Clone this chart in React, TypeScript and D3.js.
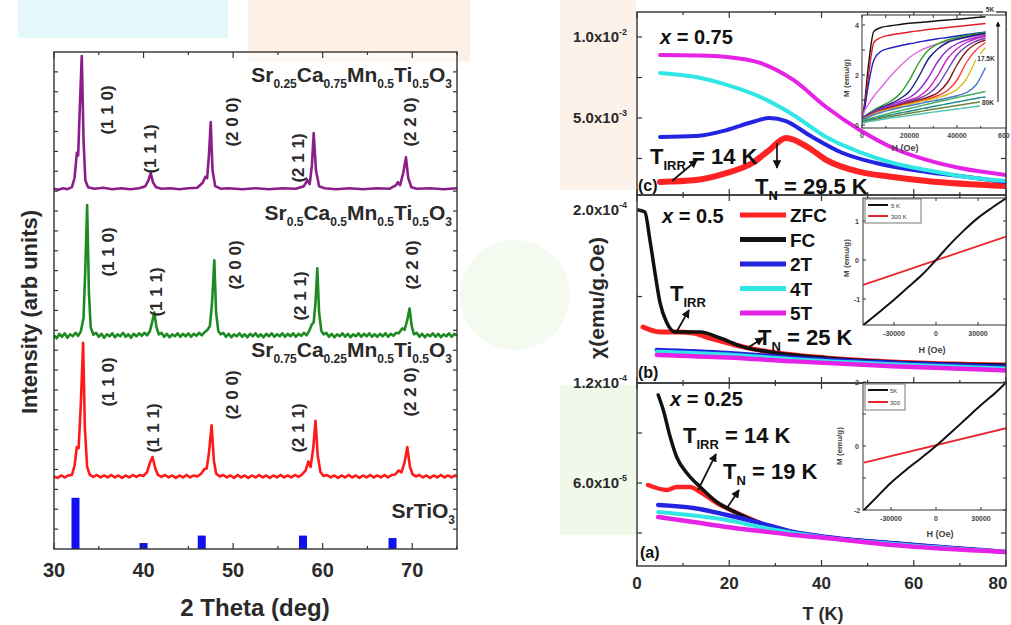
import React from 'react';
import * as d3 from 'd3';

const FONT = "'Liberation Sans', Arial, Helvetica, sans-serif";
const INK = '#2a2a2a';

// ---------- left panel : XRD patterns, [2theta, intensity] ----------
const xrdPurple: [number, number][] = [
  [30, 0.3], [30.5, 0.1], [31, 0.4], [31.5, 0.2], [32, 0.6], [32.3, 2.5], [32.55, 7.5], [32.7, 7.0], [32.85, 15], [33.1, 27.0],
  [33.3, 10], [33.5, 2], [33.8, 0.6], [34.5, 0.3], [35.5, 0.5], [36.5, 0.2], [37.5, 0.4], [38.5, 0.2], [39.5, 0.4], [40.2, 0.8],
  [40.5, 1.8], [40.8, 3.4], [41.05, 1.6], [41.4, 0.6], [42, 0.3], [43, 0.4], [44, 0.2], [45, 0.4], [46, 0.5], [46.6, 1.5],
  [46.9, 2.7], [47.1, 2.4], [47.3, 7], [47.5, 13.7], [47.7, 4], [48, 0.8], [48.6, 0.3], [49.5, 0.4], [51, 0.2], [52.5, 0.4],
  [54, 0.2], [55.5, 0.4], [57, 0.3], [57.9, 0.8], [58.3, 2.0], [58.55, 1.2], [58.8, 5], [59.0, 11.5], [59.25, 4], [59.6, 0.8],
  [60.2, 0.4], [61.5, 0.2], [63, 0.4], [64.5, 0.2], [66, 0.4], [67.5, 0.3], [68.2, 1.0], [68.4, 1.6], [68.65, 1.0], [69.0, 3.5],
  [69.3, 6.6], [69.55, 2.5], [69.9, 0.6], [70.5, 0.3], [72, 0.4], [73.5, 0.2], [75, 0.4],
];
const xrdGreen: [number, number][] = [
  [30, 0.4], [30.3, -0.2], [30.6, 0.7], [30.9, 0.1], [31.2, 0.8], [31.5, -0.1], [31.8, 0.6], [32.1, 0.2], [32.4, 0.9], [32.7, 0.3],
  [33.0, 1.2], [33.3, 4], [33.5, 14], [33.7, 26.6], [33.9, 9], [34.1, 2], [34.4, 0.5], [34.7, 0.9], [35.0, 0.1], [35.3, 0.7],
  [35.6, -0.1], [35.9, 0.6], [36.2, 0.2], [36.5, 0.8], [36.8, 0], [37.1, 0.6], [37.4, 0.2], [37.7, 0.9], [38.0, 0.1], [38.3, 0.6],
  [38.6, -0.1], [38.9, 0.7], [39.2, 0.2], [39.5, 0.8], [39.8, 0.3], [40.1, 0.9], [40.4, 0.4], [40.7, 1.2], [40.95, 3], [41.2, 5.0],
  [41.45, 2], [41.7, 0.6], [42.0, 0.9], [42.3, 0.1], [42.6, 0.7], [42.9, 0], [43.2, 0.6], [43.5, 0.2], [43.8, 0.8], [44.1, 0.1],
  [44.4, 0.7], [44.7, 0.2], [45.0, 0.8], [45.3, 0.1], [45.6, 0.7], [45.9, 0.3], [46.2, 0.9], [46.5, 0.4], [46.8, 1.0], [47.1, 1.4],
  [47.4, 2.2], [47.65, 7], [47.9, 15.5], [48.1, 5], [48.35, 1.2], [48.6, 0.6], [48.9, 0.9], [49.2, 0.1], [49.5, 0.7], [49.8, 0],
  [50.1, 0.6], [50.4, 0.2], [50.7, 0.8], [51.0, 0.1], [51.3, 0.6], [51.6, 0], [51.9, 0.7], [52.2, 0.2], [52.5, 0.8], [52.8, 0.1],
  [53.1, 0.6], [53.4, 0], [53.7, 0.7], [54.0, 0.2], [54.3, 0.8], [54.6, 0.1], [54.9, 0.6], [55.2, 0.2], [55.5, 0.8], [55.8, 0.1],
  [56.1, 0.7], [56.4, 0.2], [56.7, 0.8], [57.0, 0.1], [57.3, 0.7], [57.6, 0.3], [57.9, 0.9], [58.2, 0.4], [58.5, 1.3], [58.8, 2.6],
  [59.0, 3.0], [59.2, 7], [59.4, 13.9], [59.6, 5], [59.85, 1.3], [60.1, 0.6], [60.4, 0.9], [60.7, 0.1], [61.0, 0.7], [61.3, 0],
  [61.6, 0.6], [61.9, 0.2], [62.2, 0.8], [62.5, 0.1], [62.8, 0.7], [63.1, 0], [63.4, 0.6], [63.7, 0.2], [64.0, 0.8], [64.3, 0.1],
  [64.6, 0.7], [64.9, 0.2], [65.2, 0.8], [65.5, 0.1], [65.8, 0.6], [66.1, 0.1], [66.4, 0.7], [66.7, 0.2], [67.0, 0.8], [67.3, 0.1],
  [67.6, 0.7], [67.9, 0.3], [68.2, 0.9], [68.5, 0.8], [68.9, 1.8], [69.15, 1.5], [69.45, 3.5], [69.7, 5.8], [69.95, 2.2], [70.2, 0.6],
  [70.5, 0.9], [70.8, 0.1], [71.1, 0.7], [71.4, 0], [71.7, 0.6], [72.0, 0.2], [72.3, 0.8], [72.6, 0.1], [72.9, 0.7], [73.2, 0],
  [73.5, 0.6], [73.8, 0.2], [74.1, 0.8], [74.4, 0.1], [74.7, 0.7], [75, 0.3],
];
const xrdRed: [number, number][] = [
  [30, 0.3], [30.4, 0], [30.8, 0.5], [31.2, 0.1], [31.6, 0.5], [32.0, 0.6], [32.3, 2.5], [32.55, 6.2], [32.75, 6.0], [33.0, 15],
  [33.25, 27.2], [33.45, 10], [33.7, 2.2], [34.0, 0.6], [34.4, 0.2], [34.8, 0.6], [35.2, 0.1], [35.6, 0.5], [36.0, 0.1], [36.4, 0.6],
  [36.8, 0.1], [37.2, 0.5], [37.6, 0], [38.0, 0.5], [38.4, 0.1], [38.8, 0.6], [39.2, 0.2], [39.6, 0.6], [40.0, 0.4], [40.4, 1.2],
  [40.7, 3.0], [41.0, 4.2], [41.3, 2.0], [41.6, 0.6], [42.0, 0.2], [42.4, 0.6], [42.8, 0.1], [43.2, 0.5], [43.6, 0], [44.0, 0.5],
  [44.4, 0.1], [44.8, 0.6], [45.2, 0.1], [45.6, 0.5], [46.0, 0.3], [46.4, 0.8], [46.8, 1.8], [47.05, 1.9], [47.3, 5], [47.6, 10.6],
  [47.85, 3.5], [48.1, 0.9], [48.5, 0.3], [48.9, 0.6], [49.3, 0.1], [49.7, 0.5], [50.1, 0], [50.5, 0.6], [50.9, 0.1], [51.3, 0.5],
  [51.7, 0], [52.1, 0.5], [52.5, 0.1], [52.9, 0.6], [53.3, 0.1], [53.7, 0.5], [54.1, 0], [54.5, 0.5], [54.9, 0.1], [55.3, 0.6],
  [55.7, 0.1], [56.1, 0.5], [56.5, 0.1], [56.9, 0.6], [57.3, 0.2], [57.7, 0.7], [58.1, 1.5], [58.4, 3.3], [58.65, 2.2], [58.95, 6],
  [59.2, 11.5], [59.45, 4.5], [59.75, 1.2], [60.1, 0.4], [60.5, 0.6], [60.9, 0.1], [61.3, 0.5], [61.7, 0], [62.1, 0.5], [62.5, 0.1],
  [62.9, 0.6], [63.3, 0.1], [63.7, 0.5], [64.1, 0], [64.5, 0.5], [64.9, 0.1], [65.3, 0.6], [65.7, 0.1], [66.1, 0.5], [66.5, 0.1],
  [66.9, 0.6], [67.3, 0.1], [67.7, 0.6], [68.1, 0.7], [68.5, 1.5], [68.8, 1.1], [69.15, 3.2], [69.45, 6.2], [69.75, 2.2], [70.05, 0.7],
  [70.4, 0.3], [70.8, 0.6], [71.2, 0.1], [71.6, 0.5], [72.0, 0], [72.4, 0.5], [72.8, 0.1], [73.2, 0.6], [73.6, 0.1], [74.0, 0.5],
  [74.4, 0.1], [74.8, 0.5], [75, 0.2],
];
const srTiO3Pos = [32.4, 40.0, 46.5, 57.8, 67.8];
const srTiO3Int = [10.3, 1.2, 2.7, 2.7, 2.2];
const thetaTicks = [30, 40, 50, 60, 70];
const hkl = ['(1 1 0)', '(1 1 1)', '(2 0 0)', '(2 1 1)', '(2 2 0)'];
const formulaPurple = ['Sr', '0.25', 'Ca', '0.75', 'Mn', '0.5', 'Ti', '0.5', 'O', '3'];
const formulaGreen = ['Sr', '0.5', 'Ca', '0.5', 'Mn', '0.5', 'Ti', '0.5', 'O', '3'];
const formulaRed = ['Sr', '0.75', 'Ca', '0.25', 'Mn', '0.5', 'Ti', '0.5', 'O', '3'];

// ---------- right panel (c) x = 0.75 ----------
const tC = [5, 12.8, 19.5, 26.7, 33.9, 41, 48.3, 55.5, 62.8, 70, 80];
const c5T = [0.00889, 0.00886, 0.00877, 0.0084, 0.00735, 0.00568, 0.00426, 0.00315, 0.00241, 0.00191, 0.00148];
const c4T = [0.00778, 0.00753, 0.00704, 0.0063, 0.00519, 0.00383, 0.0029, 0.00222, 0.00179, 0.00142, 0.00111];
const tC2T = [5, 12.8, 19.5, 25, 28.7, 32.3, 37.3, 44.6, 51.8, 62.8, 70, 80];
const c2T = [0.00383, 0.00389, 0.00426, 0.00475, 0.005, 0.00481, 0.00395, 0.00284, 0.00222, 0.00167, 0.00142, 0.00105];
const tCZfc = [5, 12.8, 19.5, 25, 28.7, 32.3, 37.3, 41, 48.3, 55.5, 62.8, 80];
const cZfc = [0.00105, 0.00117, 0.00161, 0.00222, 0.00302, 0.00377, 0.00315, 0.00241, 0.00167, 0.00136, 0.00111, 0.0008];

// ---------- right panel (b) x = 0.5 ----------
const tBFc = [0.3, 1.7, 2.8, 3.9, 5, 6.5, 8.2, 10.8, 13.7, 18, 23, 30.3, 41, 55.5, 80];
const bFc = [2.0e-4, 1.991e-4, 1.861e-4, 1.709e-4, 1.57e-4, 1.477e-4, 1.436e-4, 1.436e-4, 1.436e-4, 1.408e-4, 1.367e-4, 1.339e-4, 1.316e-4, 1.297e-4, 1.283e-4];
const tBZfc = [1.3, 5, 8.6, 12.2, 15.8, 18, 23, 30.3, 41, 55.5, 80];
const bZfc = [1.459e-4, 1.436e-4, 1.436e-4, 1.431e-4, 1.408e-4, 1.395e-4, 1.367e-4, 1.339e-4, 1.316e-4, 1.297e-4, 1.283e-4];
const tBField = [4.3, 19.5, 34, 55.5, 80];
const b2T = [1.353e-4, 1.339e-4, 1.316e-4, 1.293e-4, 1.274e-4];
const b4T = [1.345e-4, 1.332e-4, 1.31e-4, 1.287e-4, 1.267e-4];
const b5T = [1.33e-4, 1.318e-4, 1.3e-4, 1.278e-4, 1.258e-4];

// ---------- right panel (a) x = 0.25 ----------
const tAFc = [4.6, 5.7, 7.2, 8.6, 10.8, 13.7, 17.3, 21.7, 26.7, 33.9, 41, 55.5, 80];
const aFc = [1.128e-4, 1.038e-4, 0.876e-4, 0.756e-4, 0.66e-4, 0.576e-4, 0.486e-4, 0.42e-4, 0.36e-4, 0.306e-4, 0.276e-4, 0.24e-4, 0.186e-4];
const tAZfc = [2.4, 6.5, 8.6, 11.5, 13.7, 17.3, 21.7, 26.7];
const aZfc = [0.588e-4, 0.558e-4, 0.576e-4, 0.576e-4, 0.546e-4, 0.48e-4, 0.42e-4, 0.36e-4];
const tAField = [4.6, 12.2, 19.5, 26.7, 33.9, 41, 55.5, 80];
const a2T = [0.468e-4, 0.45e-4, 0.408e-4, 0.36e-4, 0.306e-4, 0.276e-4, 0.238e-4, 0.186e-4];
const a4T = [0.426e-4, 0.405e-4, 0.378e-4, 0.336e-4, 0.3e-4, 0.272e-4, 0.234e-4, 0.186e-4];
const a5T = [0.396e-4, 0.366e-4, 0.336e-4, 0.312e-4, 0.288e-4, 0.27e-4, 0.228e-4, 0.186e-4];

const tTicks = [0, 20, 40, 60, 80];

// ---------- insets: M(H) ----------
const mhH = [0, 1000, 2500, 5000, 8000, 12000, 16000, 20000, 24000, 28000, 32000, 36000, 40000, 44000, 48000, 52000];
const mhCurvesC = [
  [0.3, 0.8, 2.2, 3.75, 3.9, 3.97, 4.02, 4.07, 4.1, 4.13, 4.17, 4.2, 4.23, 4.26, 4.3, 4.33],
  [0.3, 0.7, 1.8, 3.3, 3.5, 3.6, 3.66, 3.72, 3.77, 3.82, 3.86, 3.9, 3.94, 3.98, 4.02, 4.06],
  [0.3, 0.6, 1.5, 2.6, 2.95, 3.08, 3.17, 3.25, 3.32, 3.39, 3.45, 3.5, 3.56, 3.62, 3.67, 3.72],
  [0.3, 0.55, 0.8, 1.15, 1.5, 1.95, 2.35, 2.7, 2.95, 3.12, 3.25, 3.35, 3.43, 3.5, 3.56, 3.62],
  [0.3, 0.35, 0.45, 0.6, 0.75, 0.95, 1.25, 1.8, 2.5, 3.0, 3.25, 3.4, 3.5, 3.58, 3.64, 3.7],
  [0.28, 0.33, 0.42, 0.55, 0.7, 0.85, 1.05, 1.35, 1.95, 2.65, 3.05, 3.3, 3.43, 3.52, 3.6, 3.66],
  [0.26, 0.31, 0.4, 0.52, 0.65, 0.8, 0.95, 1.1, 1.4, 1.9, 2.55, 3.0, 3.25, 3.4, 3.5, 3.58],
  [0.25, 0.3, 0.38, 0.5, 0.62, 0.75, 0.88, 1.0, 1.15, 1.45, 2.0, 2.65, 3.05, 3.3, 3.45, 3.55],
  [0.24, 0.29, 0.36, 0.48, 0.6, 0.72, 0.84, 0.95, 1.07, 1.25, 1.6, 2.2, 2.8, 3.15, 3.35, 3.48],
  [0.23, 0.28, 0.35, 0.46, 0.58, 0.7, 0.8, 0.9, 1.0, 1.12, 1.3, 1.7, 2.4, 2.95, 3.25, 3.4],
  [0.22, 0.27, 0.34, 0.45, 0.56, 0.67, 0.77, 0.86, 0.95, 1.05, 1.18, 1.38, 1.8, 2.5, 3.0, 3.3],
  [0.21, 0.26, 0.33, 0.44, 0.54, 0.64, 0.74, 0.83, 0.92, 1.0, 1.1, 1.22, 1.42, 1.85, 2.6, 3.1],
  [0.2, 0.25, 0.31, 0.41, 0.5, 0.6, 0.69, 0.77, 0.85, 0.93, 1.0, 1.08, 1.17, 1.3, 1.6, 2.3],
  [0.15, 0.2, 0.24, 0.3, 0.38, 0.48, 0.57, 0.66, 0.75, 0.84, 0.93, 1.01, 1.1, 1.18, 1.26, 1.34],
  [0.12, 0.16, 0.2, 0.25, 0.32, 0.4, 0.48, 0.55, 0.63, 0.7, 0.78, 0.85, 0.92, 0.99, 1.06, 1.12],
  [0.1, 0.13, 0.16, 0.21, 0.27, 0.34, 0.4, 0.47, 0.53, 0.6, 0.66, 0.72, 0.78, 0.84, 0.9, 0.96],
  [0.08, 0.1, 0.13, 0.17, 0.22, 0.28, 0.33, 0.38, 0.43, 0.49, 0.54, 0.59, 0.64, 0.69, 0.74, 0.78],
];
const mhColorsC = ['#111', '#e02020', '#2222c0', '#e066e0', '#22a022', '#1c1c80', '#9030d0', '#d020c0',
  '#6a3cb0', '#801818', '#ff3a3a', '#d4c020', '#4a78c4', '#40b060', '#208a8a', '#70853a', '#50c0b0'];

const mhBH = [-52000, -40000, -30000, -20000, -10000, 0, 10000, 20000, 30000, 40000, 50000];
const mhB5K = [-1.67, -1.32, -1.02, -0.7, -0.38, 0, 0.4, 0.76, 1.08, 1.34, 1.58];
const mhB300H = [-52000, 50000];
const mhB300 = [-0.64, 0.6];

const mhAH = [-48000, -40000, -30000, -20000, -10000, 0, 10000, 20000, 30000, 40000, 47000];
const mhA5K = [-2.0, -1.62, -1.15, -0.75, -0.38, 0, 0.42, 0.85, 1.28, 1.68, 2.0];
const mhA300H = [-48000, 47000];
const mhA300 = [-0.52, 0.56];

type P = [number, number];
const zip = (a: number[], b: number[]): P[] => a.map((v, i) => [v, b[i]] as P);

function Chem({ x, y, parts, size = 21, sub = 12 }: { x: number; y: number; parts: string[]; size?: number; sub?: number }) {
  return (
    <text x={x} y={y} textAnchor="end" fontSize={size} fontWeight="bold" fill={INK}>
      {parts.map((p, i) => (
        <tspan key={i} dy={i === 0 ? 0 : i % 2 === 1 ? 6 : -6} fontSize={i % 2 === 1 ? sub : size}>{p}</tspan>
      ))}
    </text>
  );
}

function Sci({ x, y, m, e }: { x: number; y: number; m: string; e: string }) {
  return (
    <text x={x} y={y + 5} textAnchor="end" fontSize={15} fontWeight="bold" fill={INK}>
      {m}x10<tspan dy={-7} fontSize={9}>{e}</tspan>
    </text>
  );
}

function TSub({ x, y, sub, rest, size = 22 }: { x: number; y: number; sub: string; rest: string; size?: number }) {
  return (
    <text x={x} y={y} fontSize={size} fontWeight="bold" fill="#111">
      T<tspan dy={6} fontSize={13}>{sub}</tspan><tspan dy={-6}>{rest}</tspan>
    </text>
  );
}

function Arrow({ x1, y1, x2, y2 }: { x1: number; y1: number; x2: number; y2: number }) {
  return <line x1={x1} y1={y1} x2={x2} y2={y2} stroke="#111" strokeWidth={1.7} markerEnd="url(#ah)" />;
}

export default function App() {
  // left panel scales
  const xL = d3.scaleLinear().domain([30, 75]).range([54, 457]);
  const yL = d3.scaleLinear().domain([0, 100]).range([549, 52]);
  const traces = [
    { data: xrdPurple, off: 72.2, color: '#8a1f8a' },
    { data: xrdGreen, off: 42.6, color: '#1f8a1f' },
    { data: xrdRed, off: 14.3, color: '#ff1a1a' },
  ];

  // right panel scales
  const xR = d3.scaleLinear().domain([0, 80]).range([637, 1006]);
  const yC = d3.scaleLinear().domain([0.005, 0.01]).range([118, 37]);
  const yB = d3.scaleLinear().domain([1.2e-4, 2.0e-4]).range([383, 210]);
  const yA = d3.scaleLinear().domain([6e-5, 1.2e-4]).range([483, 383]);
  const panels = [
    { top: 12, bottom: 195, y: yC, ticks: [0.0025, 0.005, 0.0075, 0.01] },
    { top: 195, bottom: 383, y: yB, ticks: [1.6e-4, 2.0e-4] },
    { top: 383, bottom: 566, y: yA, ticks: [3e-5, 6e-5, 9e-5, 1.2e-4] },
  ];
  const cLine = (y: d3.ScaleLinear<number, number>) =>
    d3.line<P>().x(d => xR(d[0])).y(d => y(d[1])).curve(d3.curveMonotoneX);

  const RED = '#ff2222', BLK = '#111', BLU = '#2323e0', CYA = '#33e6e6', MAG = '#e522e5';
  const curvesC = [
    { d: zip(tCZfc, cZfc), c: RED, w: 6 },
    { d: zip(tC2T, c2T), c: BLU, w: 4 },
    { d: zip(tC, c4T), c: CYA, w: 4 },
    { d: zip(tC, c5T), c: MAG, w: 4 },
  ];
  const curvesB = [
    { d: zip(tBZfc, bZfc), c: RED, w: 5 },
    { d: zip(tBFc, bFc), c: BLK, w: 3.5 },
    { d: zip(tBField, b2T), c: BLU, w: 4.5 },
    { d: zip(tBField, b4T), c: CYA, w: 4 },
    { d: zip(tBField, b5T), c: MAG, w: 4.5 },
  ];
  const curvesA = [
    { d: zip(tAZfc, aZfc), c: RED, w: 4.5 },
    { d: zip(tAFc, aFc), c: BLK, w: 3.5 },
    { d: zip(tAField, a2T), c: BLU, w: 4.5 },
    { d: zip(tAField, a4T), c: CYA, w: 4 },
    { d: zip(tAField, a5T), c: MAG, w: 4.5 },
  ];
  const allCurves = [curvesC, curvesB, curvesA];

  // insets
  const xIC = d3.scaleLinear().domain([0, 40000]).range([862, 957]);
  const yIC = d3.scaleLinear().domain([0, 4]).range([125, 25]);
  const xIB = d3.scaleLinear().domain([0, 30000]).range([936, 978]);
  const yIB = d3.scaleLinear().domain([0, 1]).range([260, 221]);
  const xIA = d3.scaleLinear().domain([0, 30000]).range([936, 981]);
  const yIA = d3.scaleLinear().domain([-2, 2]).range([510, 382]);
  const insetLine = (x: d3.ScaleLinear<number, number>, y: d3.ScaleLinear<number, number>) =>
    d3.line<P>().x(d => x(d[0])).y(d => y(d[1])).curve(d3.curveMonotoneX);

  const hklPos = [
    [[107, 110], [150, 149], [232, 122], [298, 158], [410, 122]],
    [[108, 252], [156, 292], [235, 265], [300, 296], [412, 265]],
    [[108, 382], [153, 428], [232, 395], [298, 428], [410, 392]],
  ];

  const frame = { stroke: '#333', strokeWidth: 1.4, fill: 'none' };
  const tickStroke = { stroke: '#333', strokeWidth: 1.2 };

  return (
    <svg width={1011} height={625} style={{ position: 'absolute', left: 0, top: 0, background: '#fff' }} fontFamily={FONT}>
      <defs>
        <marker id="ah" viewBox="0 0 10 10" refX={9} refY={5} markerWidth={5} markerHeight={5} orient="auto">
          <path d="M0,0L10,5L0,10z" fill="#111" />
        </marker>
        {panels.map((p, i) => (
          <clipPath id={`cp${i}`} key={i}><rect x={637} y={p.top} width={369} height={p.bottom - p.top} /></clipPath>
        ))}
        <clipPath id="ic0"><rect x={862} y={15} width={144} height={113} /></clipPath>
        <clipPath id="ic1"><rect x={863} y={198} width={143} height={127} /></clipPath>
        <clipPath id="ic2"><rect x={863} y={383} width={143} height={127} /></clipPath>
      </defs>

      {/* faint watermark patches */}
      <rect x={18} y={0} width={210} height={38} fill="#e4f8fb" />
      <rect x={248} y={0} width={222} height={62} fill="#fdf0e6" />
      <rect x={560} y={0} width={76} height={190} fill="#fdf2ea" />
      <rect x={560} y={385} width={76} height={150} fill="#f0f8ea" />
      <ellipse cx={515} cy={295} rx={55} ry={55} fill="#f4faf0" />

      {/* ================= left panel ================= */}
      <rect x={54} y={52} width={403} height={497} fill="#fff" fillOpacity={0.6} />
      {traces.map((t, i) => (
        <path key={i} d={d3.line<P>().x(d => xL(d[0])).y(d => yL(t.off + d[1]))(t.data) || ''}
          fill="none" stroke={t.color} strokeWidth={2.6} strokeLinejoin="round" />
      ))}
      {srTiO3Pos.map((p, i) => (
        <rect key={i} x={xL(p) - 4} y={yL(srTiO3Int[i])} width={8} height={yL(0) - yL(srTiO3Int[i])} fill="#1010f0" />
      ))}
      <rect x={54} y={52} width={403} height={497} {...frame} />
      {d3.range(30, 76, 5).map(v => (
        <g key={v}>
          <line x1={xL(v)} x2={xL(v)} y1={549} y2={549 - (v % 10 === 0 ? 6 : 3)} {...tickStroke} />
          <line x1={xL(v)} x2={xL(v)} y1={52} y2={52 + (v % 10 === 0 ? 6 : 3)} {...tickStroke} />
        </g>
      ))}
      {d3.range(4, 100, 4).map(v => (
        <g key={v}>
          <line x1={54} x2={58} y1={yL(v)} y2={yL(v)} {...tickStroke} />
          <line x1={457} x2={453} y1={yL(v)} y2={yL(v)} {...tickStroke} />
        </g>
      ))}
      {thetaTicks.map(v => (
        <text key={v} x={xL(v)} y={577} textAnchor="middle" fontSize={20} fontWeight="bold" fill={INK}>{v}</text>
      ))}
      <text x={255} y={616} textAnchor="middle" fontSize={24} fontWeight="bold" fill={INK}>2 Theta (deg)</text>
      <text transform="translate(37,312) rotate(-90)" textAnchor="middle" fontSize={22} fontWeight="bold" fill={INK}>Intensity (arb units)</text>
      {hklPos.map((row, r) => row.map(([x, y], i) => (
        <text key={`${r}-${i}`} transform={`translate(${x},${y}) rotate(-90)`} textAnchor="middle" dy={6}
          fontSize={17} fontWeight="bold" fill={INK}>{hkl[i]}</text>
      )))}
      <Chem x={452} y={82} parts={formulaPurple} />
      <Chem x={452} y={220} parts={formulaGreen} />
      <Chem x={452} y={357} parts={formulaRed} />
      <Chem x={455} y={518} parts={['SrTiO', '3']} />

      {/* ================= right panel ================= */}
      {panels.map((p, i) => (
        <g key={i}>
          <g clipPath={`url(#cp${i})`}>
            {allCurves[i].map((c, j) => (
              <path key={j} d={cLine(p.y)(c.d) || ''} fill="none" stroke={c.c} strokeWidth={c.w} strokeLinecap="round" />
            ))}
          </g>
          <rect x={637} y={p.top} width={369} height={p.bottom - p.top} {...frame} />
          {d3.range(0, 81, 10).map(v => (
            <g key={v}>
              <line x1={xR(v)} x2={xR(v)} y1={p.bottom} y2={p.bottom - (v % 20 === 0 ? 6 : 3)} {...tickStroke} />
              <line x1={xR(v)} x2={xR(v)} y1={p.top} y2={p.top + (v % 20 === 0 ? 6 : 3)} {...tickStroke} />
            </g>
          ))}
          {p.ticks.map(v => (
            <g key={v}>
              <line x1={637} x2={642} y1={p.y(v)} y2={p.y(v)} {...tickStroke} />
              <line x1={1006} x2={1001} y1={p.y(v)} y2={p.y(v)} {...tickStroke} />
            </g>
          ))}
        </g>
      ))}
      <Sci x={627} y={yC(0.01)} m="1.0" e="-2" />
      <Sci x={627} y={yC(0.005)} m="5.0" e="-3" />
      <Sci x={627} y={yB(2.0e-4)} m="2.0" e="-4" />
      <Sci x={627} y={yA(1.2e-4)} m="1.2" e="-4" />
      <Sci x={627} y={yA(6e-5)} m="6.0" e="-5" />
      {tTicks.map(v => (
        <text key={v} x={Math.min(xR(v), 998)} y={589} textAnchor="middle" fontSize={17} fontWeight="bold" fill={INK}>{v}</text>
      ))}
      <text x={823} y={620} textAnchor="middle" fontSize={18} fontWeight="bold" fill={INK}>T (K)</text>
      <text transform="translate(604,298) rotate(-90)" textAnchor="middle" fontSize={21} fontWeight="bold" fill={INK}>χ(emu/g.Oe)</text>

      {/* panel (c) annotations */}
      <text x={660} y={44} fontSize={20} fontWeight="bold" fill="#111"><tspan fontStyle="italic">x</tspan> = 0.75</text>
      <TSub x={650} y={164} sub="IRR" rest=" = 14 K" />
      <TSub x={755} y={194} sub="N" rest=" = 29.5 K" />
      <text x={638} y={191} fontSize={16} fontWeight="bold" fill="#111">(c)</text>
      <Arrow x1={672} y1={181} x2={697} y2={160} />
      <Arrow x1={777} y1={143} x2={777} y2={168} />

      {/* panel (b) annotations */}
      <text x={662} y={223} fontSize={20} fontWeight="bold" fill="#111"><tspan fontStyle="italic">x</tspan> = 0.5</text>
      {[['ZFC', RED], ['FC', BLK], ['2T', BLU], ['4T', CYA], ['5T', MAG]].map(([lab, col], i) => {
        const ly = 215 + i * 24.5;
        return (
          <g key={lab}>
            <line x1={740} x2={786} y1={ly} y2={ly} stroke={col} strokeWidth={5} />
            <text x={790} y={ly + 7} fontSize={19} fontWeight="bold" fill="#111">{lab}</text>
          </g>
        );
      })}
      <TSub x={670} y={301} sub="IRR" rest="" />
      <TSub x={758} y={345} sub="N" rest=" = 25 K" />
      <text x={638} y={378} fontSize={16} fontWeight="bold" fill="#111">(b)</text>
      <Arrow x1={677} y1={331} x2={689} y2={310} />
      <Arrow x1={749} y1={347} x2={763} y2={338} />

      {/* panel (a) annotations */}
      <text x={670} y={406} fontSize={20} fontWeight="bold" fill="#111"><tspan fontStyle="italic">x</tspan> = 0.25</text>
      <TSub x={683} y={443} sub="IRR" rest=" = 14 K" />
      <TSub x={723} y={479} sub="N" rest=" = 19 K" />
      <text x={640} y={558} fontSize={16} fontWeight="bold" fill="#111">(a)</text>
      <Arrow x1={698} y1={490} x2={716} y2={454} />
      <Arrow x1={727} y1={508} x2={739} y2={490} />

      {/* ---------- inset (c) ---------- */}
      <rect x={862} y={15} width={144} height={113} fill="#fff" />
      <g clipPath="url(#ic0)">
        {mhCurvesC.map((m, i) => (
          <path key={i} d={insetLine(xIC, yIC)(zip(mhH, m)) || ''} fill="none" stroke={mhColorsC[i]} strokeWidth={1.4} />
        ))}
      </g>
      <rect x={862} y={15} width={144} height={113} {...frame} strokeWidth={1} />
      {[0, 10000, 20000, 30000, 40000, 50000].map(v => (
        <g key={v}>
          <line x1={xIC(v)} x2={xIC(v)} y1={128} y2={128 - (v % 20000 === 0 ? 3 : 2)} stroke="#333" />
          <line x1={xIC(v)} x2={xIC(v)} y1={15} y2={18} stroke="#333" />
        </g>
      ))}
      {[0, 1, 2, 3, 4].map(v => (
        <line key={v} x1={862} x2={865} y1={yIC(v)} y2={yIC(v)} stroke="#333" />
      ))}
      {[0, 2, 4].map(v => (
        <text key={v} x={857} y={yIC(v) + 3} textAnchor="middle" fontSize={7} fontWeight="bold" fill="#444">{v}</text>
      ))}
      {[0, 20000, 40000].map(v => (
        <text key={v} x={xIC(v)} y={138} textAnchor="middle" fontSize={7} fontWeight="bold" fill="#444">{v}</text>
      ))}
      <text x={998} y={138} fontSize={7} fontWeight="bold" fill="#444">600</text>
      <text x={905} y={151} textAnchor="middle" fontSize={9} fontWeight="bold" fill="#444">H (Oe)</text>
      <text transform="translate(849,78) rotate(-90)" textAnchor="middle" fontSize={8} fontWeight="bold" fill="#444">M (emu/g)</text>
      <line x1={998} y1={102} x2={998} y2={22} stroke="#111" strokeWidth={1} markerEnd="url(#ah)" />
      <rect x={983} y={5} width={13} height={9} fill="#fff" />
      <text x={990} y={12} textAnchor="middle" fontSize={6.5} fontWeight="bold" fill="#333">5K</text>
      <rect x={976} y={54} width={21} height={9} fill="#fff" />
      <text x={986} y={61} textAnchor="middle" fontSize={6.5} fontWeight="bold" fill="#333">17.5K</text>
      <rect x={980} y={98} width={16} height={9} fill="#fff" />
      <text x={988} y={105} textAnchor="middle" fontSize={6.5} fontWeight="bold" fill="#333">80K</text>

      {/* ---------- inset (b) ---------- */}
      <rect x={863} y={198} width={143} height={127} fill="#fff" />
      <g clipPath="url(#ic1)">
        <path d={insetLine(xIB, yIB)(zip(mhB300H, mhB300)) || ''} fill="none" stroke="#e8242c" strokeWidth={1.8} />
        <path d={insetLine(xIB, yIB)(zip(mhBH, mhB5K)) || ''} fill="none" stroke="#111" strokeWidth={2} />
      </g>
      <rect x={863} y={198} width={143} height={127} {...frame} strokeWidth={1} />
      {[-30000, 0, 30000].map(v => (
        <g key={v}>
          <line x1={xIB(v)} x2={xIB(v)} y1={325} y2={322} stroke="#333" />
          <line x1={xIB(v)} x2={xIB(v)} y1={198} y2={201} stroke="#333" />
          <text x={xIB(v)} y={336} textAnchor="middle" fontSize={7} fontWeight="bold" fill="#444">{v}</text>
        </g>
      ))}
      {[-1, 0, 1].map(v => (
        <g key={v}>
          <line x1={863} x2={866} y1={yIB(v)} y2={yIB(v)} stroke="#333" />
          <line x1={1006} x2={1003} y1={yIB(v)} y2={yIB(v)} stroke="#333" />
          <text x={857} y={yIB(v) + 3} textAnchor="middle" fontSize={7} fontWeight="bold" fill="#444">{v}</text>
        </g>
      ))}
      <text x={932} y={353} textAnchor="middle" fontSize={9} fontWeight="bold" fill="#444">H (Oe)</text>
      <text transform="translate(849,258) rotate(-90)" textAnchor="middle" fontSize={8} fontWeight="bold" fill="#444">M (emu/g)</text>
      <rect x={865} y={199} width={56} height={24} fill="#fff" stroke="#555" strokeWidth={0.8} />
      <line x1={868} x2={888} y1={205} y2={205} stroke="#111" strokeWidth={2} />
      <text x={891} y={207.5} fontSize={6} fill="#333">5 K</text>
      <line x1={868} x2={888} y1={216} y2={216} stroke="#e8242c" strokeWidth={2} />
      <text x={891} y={218.5} fontSize={6} fill="#333">300 K</text>

      {/* ---------- inset (a) ---------- */}
      <rect x={863} y={383} width={143} height={127} fill="#fff" />
      <g clipPath="url(#ic2)">
        <path d={insetLine(xIA, yIA)(zip(mhA300H, mhA300)) || ''} fill="none" stroke="#e8242c" strokeWidth={1.8} />
        <path d={insetLine(xIA, yIA)(zip(mhAH, mhA5K)) || ''} fill="none" stroke="#111" strokeWidth={2} />
      </g>
      <rect x={863} y={383} width={143} height={127} {...frame} strokeWidth={1} />
      {[-30000, 0, 30000].map(v => (
        <g key={v}>
          <line x1={xIA(v)} x2={xIA(v)} y1={510} y2={507} stroke="#333" />
          <text x={xIA(v)} y={521} textAnchor="middle" fontSize={7} fontWeight="bold" fill="#444">{v}</text>
        </g>
      ))}
      {[-2, -1, 0, 1, 2].map(v => (
        <g key={v}>
          <line x1={863} x2={866} y1={yIA(v)} y2={yIA(v)} stroke="#333" />
          <line x1={1006} x2={1003} y1={yIA(v)} y2={yIA(v)} stroke="#333" />
        </g>
      ))}
      {[-2, 0, 2].map(v => (
        <text key={v} x={857} y={yIA(v) + 3} textAnchor="middle" fontSize={7} fontWeight="bold" fill="#444">{v}</text>
      ))}
      <text x={940} y={537} textAnchor="middle" fontSize={9} fontWeight="bold" fill="#444">H (Oe)</text>
      <text transform="translate(842,446) rotate(-90)" textAnchor="middle" fontSize={8} fontWeight="bold" fill="#444">M (emu/g)</text>
      <rect x={865} y={384} width={40} height={26} fill="#fff" stroke="#555" strokeWidth={0.8} />
      <line x1={868} x2={888} y1={390} y2={390} stroke="#111" strokeWidth={2} />
      <text x={890} y={392.5} fontSize={6} fill="#333">5K</text>
      <line x1={868} x2={888} y1={402} y2={402} stroke="#e8242c" strokeWidth={2} />
      <text x={890} y={404.5} fontSize={6} fill="#333">300</text>
    </svg>
  );
}
